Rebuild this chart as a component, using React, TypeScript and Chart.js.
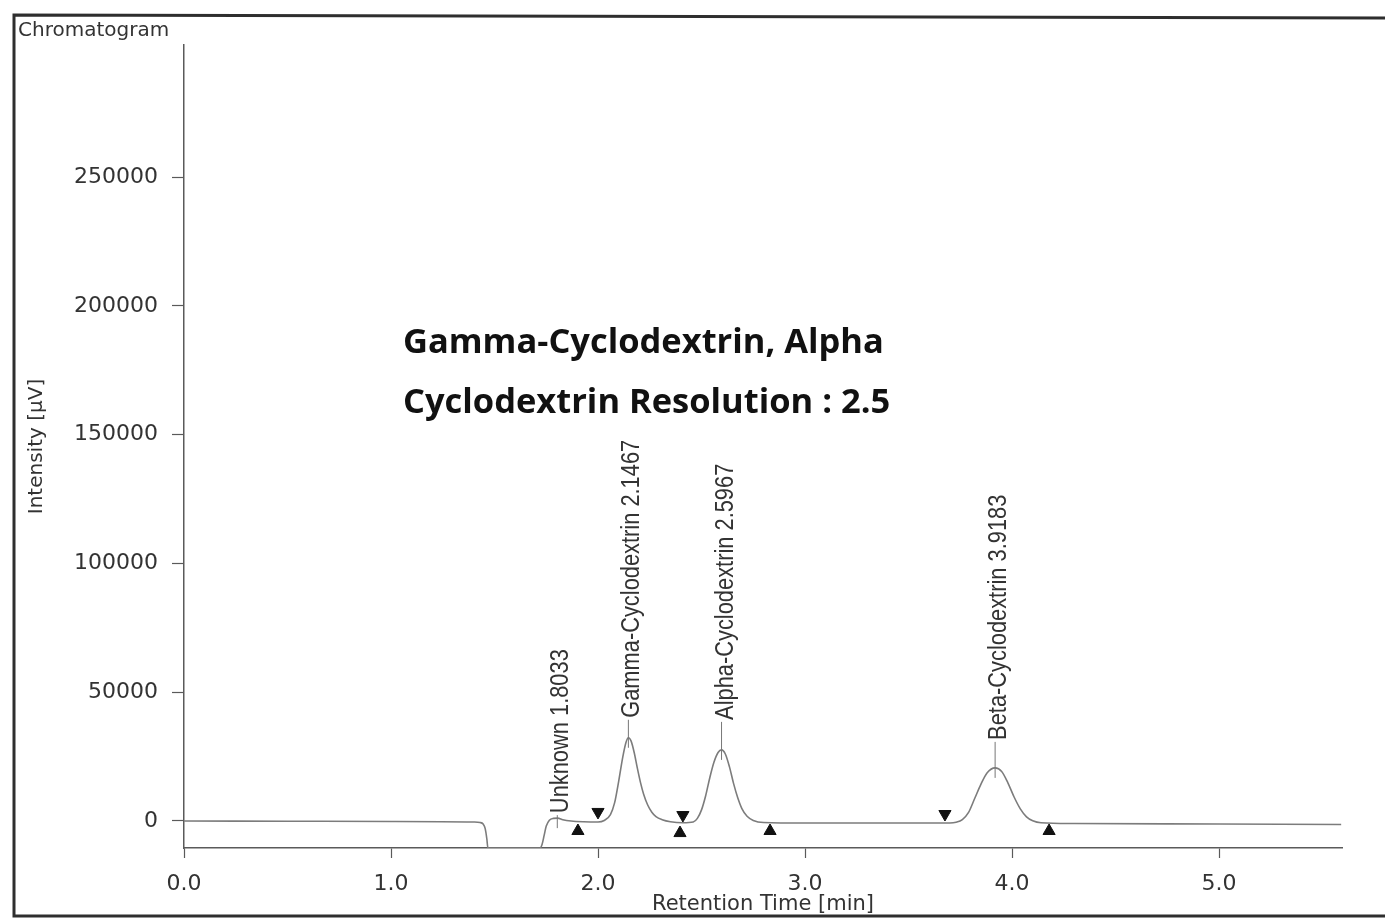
import React, { useEffect, useRef } from "react";
import { Chart, registerables } from "chart.js";

Chart.register(...registerables);

// Chromatogram trace (retention time in min, intensity in µV)
const traceTimes = [
  0.0, 0.5, 1.0, 1.4, 1.43, 1.445, 1.455, 1.463, 1.468, 1.72, 1.73, 1.74, 1.75, 1.765, 1.785, 1.805, 1.83, 1.87,
  1.93, 2.0, 2.03, 2.06, 2.08, 2.1, 2.12, 2.135, 2.147, 2.16, 2.175, 2.19, 2.205, 2.22, 2.24, 2.26, 2.28, 2.31,
  2.35, 2.41, 2.46, 2.48, 2.5, 2.52, 2.54, 2.56, 2.58, 2.597, 2.615, 2.635, 2.655, 2.675, 2.695, 2.72, 2.75, 2.8,
  3.0, 3.4, 3.7, 3.73, 3.76, 3.79, 3.82, 3.85, 3.88, 3.918, 3.95, 3.98, 4.01, 4.04, 4.07, 4.1, 4.14, 4.3, 5.0, 5.59,
];
const traceValues = [
  0, -100, -200, -400, -600, -1200, -3000, -7000, -10500, -10500, -9000, -5500, -2000, 300, 1000, 1100, 500, 0,
  -300, -400, 200, 2500, 7000, 15500, 25000, 30500, 32300, 31000, 26500, 20500, 15000, 10500, 6200, 3400, 1700, 500,
  -300, -700, -400, 1000, 4300, 9800, 16800, 22800, 26600, 27600, 26000, 21000, 14500, 9000, 4800, 1800, 200, -600,
  -800, -800, -800, -500, 500, 3300, 8800, 14300, 18700, 20600, 19200, 14800, 9300, 4700, 1600, 100, -700, -1000, -1200, -1400,
];

// Peak start markers (▼) and end markers (▲)
const startTimes = [2.0, 2.41, 3.676];
const startValues = [3500, 2300, 2700];
const endTimes = [1.903, 2.396, 2.831, 4.179];
const endValues = [-3900, -4700, -3900, -3900];

// Peak labels
const peakNames = ["Unknown", "Gamma-Cyclodextrin", "Alpha-Cyclodextrin", "Beta-Cyclodextrin"];
const peakTimes = [1.8033, 2.1467, 2.5967, 3.9183];
const peakHeights = [1100, 32300, 27600, 20600];

// Axis ticks
const xTicks = [0, 1, 2, 3, 4, 5];
const yTicks = [0, 50000, 100000, 150000, 200000, 250000];

const frameTitle = "Chromatogram";
const noteLines = ["Gamma-Cyclodextrin, Alpha", "Cyclodextrin Resolution : 2.5"];
const xTitle = "Retention Time [min]";
const yTitle = "Intensity [µV]";

const AXIS_COLOR = "#5a5a5a";
const TEXT_COLOR = "#333333";
// gap (px) between each peak apex and the start of its label
const LABEL_GAPS = [5, 20, 30, 28];

const decorPlugin = {
  id: "decor",
  beforeDraw(chart: any) {
    const ctx = chart.ctx;
    ctx.save();
    ctx.fillStyle = "#ffffff";
    ctx.fillRect(0, 0, chart.width, chart.height);
    ctx.strokeStyle = "#2e2e2e";
    ctx.lineWidth = 3;
    ctx.beginPath();
    ctx.moveTo(chart.width + 5, 18);
    ctx.lineTo(14, 15);
    ctx.lineTo(14, 916);
    ctx.lineTo(chart.width + 5, 916);
    ctx.stroke();
    ctx.fillStyle = TEXT_COLOR;
    ctx.font = '20px "DejaVu Sans"';
    ctx.textAlign = "left";
    ctx.textBaseline = "middle";
    ctx.fillText(frameTitle, 18, 31);
    ctx.restore();
  },
  afterDatasetsDraw(chart: any) {
    const ctx = chart.ctx;
    const xs = chart.scales.x;
    const ys = chart.scales.y;
    ctx.save();
    for (let i = 0; i < peakNames.length; i++) {
      const px = xs.getPixelForValue(peakTimes[i]);
      const py = ys.getPixelForValue(peakHeights[i]);
      const start = py - LABEL_GAPS[i];
      ctx.strokeStyle = "#777777";
      ctx.lineWidth = 1;
      ctx.beginPath();
      ctx.moveTo(px, py + 10);
      ctx.lineTo(px, start + 2);
      ctx.stroke();
      ctx.save();
      ctx.translate(px + 11, start);
      ctx.rotate(-Math.PI / 2);
      ctx.scale(0.84, 1);
      ctx.font = '26px "Liberation Sans"';
      ctx.fillStyle = TEXT_COLOR;
      ctx.textAlign = "left";
      ctx.textBaseline = "alphabetic";
      ctx.fillText(`${peakNames[i]} ${peakTimes[i].toFixed(4)}`, 0, 0);
      ctx.restore();
    }
    const family = '"Open Sans", "Noto Sans", sans-serif';
    ctx.font = `bold 30px ${family}`;
    const w = ctx.measureText(noteLines[0]).width;
    const size = (30 * 481) / w;
    ctx.font = `bold ${size.toFixed(2)}px ${family}`;
    ctx.fillStyle = "#111111";
    ctx.textAlign = "left";
    ctx.textBaseline = "middle";
    ctx.fillText(noteLines[0], 403, 343);
    ctx.fillText(noteLines[1], 403, 403);
    ctx.restore();
  },
};

export default function App() {
  const ref = useRef<HTMLCanvasElement | null>(null);
  useEffect(() => {
    if (!ref.current) return;
    const chart = new Chart(ref.current, {
      type: "line",
      data: {
        datasets: [
          {
            label: "Trace",
            data: traceTimes.map((t, i) => ({ x: t, y: traceValues[i] })),
            borderColor: "#7c7c7c",
            borderWidth: 1.6,
            pointRadius: 0,
            cubicInterpolationMode: "monotone",
            fill: false,
          } as any,
          {
            type: "scatter",
            label: "Peak start",
            data: startTimes.map((t, i) => ({ x: t, y: startValues[i] })),
            pointStyle: "triangle",
            rotation: 180,
            pointRadius: 7,
            backgroundColor: "#111111",
            borderColor: "#111111",
            borderWidth: 1,
          } as any,
          {
            type: "scatter",
            label: "Peak end",
            data: endTimes.map((t, i) => ({ x: t, y: endValues[i] })),
            pointStyle: "triangle",
            pointRadius: 7,
            backgroundColor: "#111111",
            borderColor: "#111111",
            borderWidth: 1,
          } as any,
        ],
      },
      options: {
        animation: false,
        responsive: false,
        devicePixelRatio: 1,
        layout: { padding: { left: 0, top: 45, right: 43, bottom: 0 } },
        plugins: {
          legend: { display: false },
          tooltip: { enabled: false },
          title: { display: false },
        },
        scales: {
          x: {
            type: "linear",
            min: 0,
            max: 5.594,
            afterFit: (s: any) => {
              s.height = 72;
            },
            afterBuildTicks: (s: any) => {
              s.ticks = xTicks.map((v) => ({ value: v }));
            },
            border: { display: true, color: AXIS_COLOR, width: 1.5 },
            grid: {
              display: true,
              drawOnChartArea: false,
              drawTicks: true,
              tickLength: 10,
              tickColor: AXIS_COLOR,
              tickWidth: 1.2,
            },
            ticks: {
              autoSkip: false,
              maxRotation: 0,
              padding: 13,
              color: TEXT_COLOR,
              font: { family: '"DejaVu Sans"', size: 22 },
              callback: (v: any) => Number(v).toFixed(1),
            },
            title: {
              display: true,
              text: xTitle,
              color: TEXT_COLOR,
              font: { family: '"DejaVu Sans"', size: 21 },
              padding: { top: 0, bottom: 3 },
            },
          },
          y: {
            type: "linear",
            min: -10500,
            max: 301300,
            afterFit: (s: any) => {
              s.width = 184;
            },
            afterBuildTicks: (s: any) => {
              s.ticks = yTicks.map((v) => ({ value: v }));
            },
            border: { display: true, color: AXIS_COLOR, width: 1.5 },
            grid: {
              display: true,
              drawOnChartArea: false,
              drawTicks: true,
              tickLength: 12,
              tickColor: AXIS_COLOR,
              tickWidth: 1.2,
            },
            ticks: {
              autoSkip: false,
              padding: 14,
              color: TEXT_COLOR,
              font: { family: '"DejaVu Sans"', size: 22 },
              callback: (v: any) => String(v),
            },
            title: {
              display: true,
              text: yTitle,
              color: TEXT_COLOR,
              font: { family: '"DejaVu Sans"', size: 20 },
              padding: { top: 25, bottom: 0 },
            },
          },
        },
      } as any,
      plugins: [decorPlugin],
    });
    return () => chart.destroy();
  }, []);
  return (
    <div style={{ position: "fixed", left: 0, top: 0, width: 1385, height: 920, background: "#fff" }}>
      <canvas ref={ref} width={1385} height={920} style={{ display: "block" }} />
    </div>
  );
}
